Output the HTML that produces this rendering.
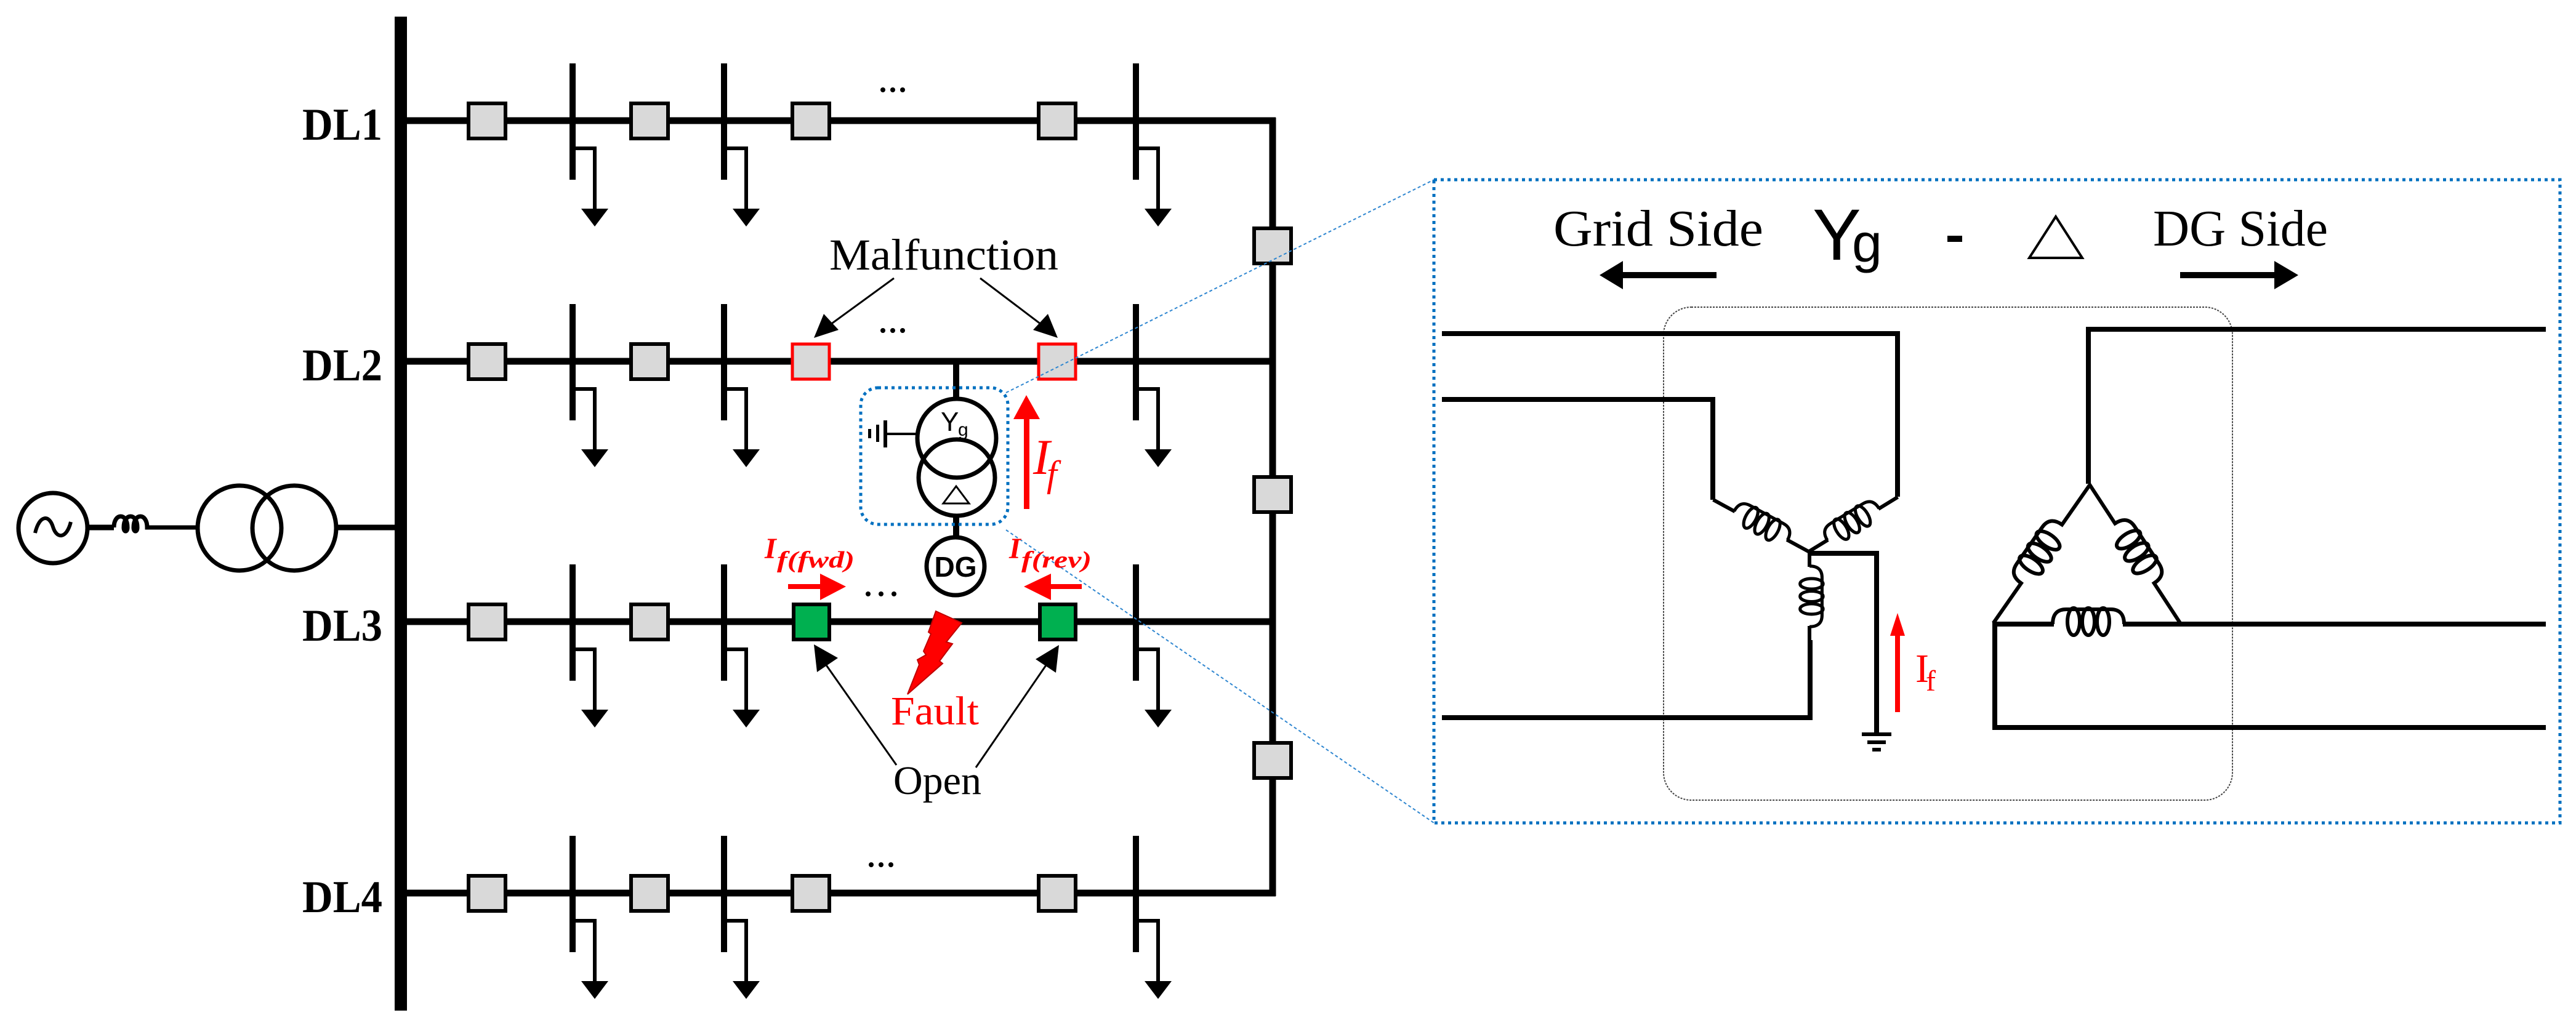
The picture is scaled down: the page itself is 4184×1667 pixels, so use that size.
<!DOCTYPE html>
<html><head><meta charset="utf-8"><style>
html,body{margin:0;padding:0;background:#fff}
svg{display:block}
.s{font-family:"Liberation Serif",serif}
.a{font-family:"Liberation Sans",sans-serif}
</style></head><body>
<svg width="4184" height="1667" viewBox="0 0 4184 1667" xmlns="http://www.w3.org/2000/svg">
<defs>
<g id="coil" fill="none" stroke="#000" stroke-width="6">
  <path d="M-58,0 Q-58,-24 -36,-24 H36 Q58,-24 58,0"/>
  <ellipse cx="-24" cy="-4" rx="10" ry="22"/>
  <ellipse cx="0" cy="-4" rx="10" ry="22"/>
  <ellipse cx="24" cy="-4" rx="10" ry="22"/>
</g>
<g id="load">
  <path d="M0,45 H36 V150" fill="none" stroke="#000" stroke-width="6"/>
  <polygon points="14,143 58,143 36,172" fill="#000"/>
</g>
</defs>

<!-- main bus -->
<rect x="641" y="27" width="20" height="1615" fill="#000"/>

<!-- source -->
<ellipse cx="86" cy="858" rx="56" ry="57" fill="none" stroke="#000" stroke-width="7"/>
<path d="M57,866 C64,836 80,836 86,856 S108,876 115,848" fill="none" stroke="#000" stroke-width="6"/>
<line x1="143" y1="857" x2="185" y2="857" stroke="#000" stroke-width="9"/>
<path d="M185,857 c0,-24 22,-24 22,0 c0,8 -6,8 -6,0 c0,-24 22,-24 22,0 c0,8 -6,8 -6,0 c0,-24 22,-24 22,0 H322" fill="none" stroke="#000" stroke-width="7"/>
<ellipse cx="389" cy="858" rx="68" ry="69" fill="none" stroke="#000" stroke-width="7"/>
<ellipse cx="478" cy="858" rx="68" ry="69" fill="none" stroke="#000" stroke-width="7"/>
<line x1="546" y1="857" x2="645" y2="857" stroke="#000" stroke-width="9"/>

<!-- feeders -->
<g stroke="#000" stroke-width="11">
<line x1="650" y1="196" x2="2072" y2="196"/>
<line x1="650" y1="587" x2="2067" y2="587"/>
<line x1="650" y1="1010" x2="2067" y2="1010"/>
<line x1="650" y1="1451" x2="2072" y2="1451"/>
<line x1="2067" y1="191" x2="2067" y2="1456"/>
</g>

<!-- branches -->
<g fill="#000">
<rect x="925" y="103" width="10" height="189"/><rect x="1171" y="103" width="10" height="189"/><rect x="1840" y="103" width="10" height="189"/>
<rect x="925" y="494" width="10" height="189"/><rect x="1171" y="494" width="10" height="189"/><rect x="1840" y="494" width="10" height="189"/>
<rect x="925" y="917" width="10" height="189"/><rect x="1171" y="917" width="10" height="189"/><rect x="1840" y="917" width="10" height="189"/>
<rect x="925" y="1358" width="10" height="189"/><rect x="1171" y="1358" width="10" height="189"/><rect x="1840" y="1358" width="10" height="189"/>
</g>
<use href="#load" x="930" y="196"/><use href="#load" x="1176" y="196"/><use href="#load" x="1845" y="196"/>
<use href="#load" x="930" y="587"/><use href="#load" x="1176" y="587"/><use href="#load" x="1845" y="587"/>
<use href="#load" x="930" y="1010"/><use href="#load" x="1176" y="1010"/><use href="#load" x="1845" y="1010"/>
<use href="#load" x="930" y="1451"/><use href="#load" x="1176" y="1451"/><use href="#load" x="1845" y="1451"/>

<!-- switches -->
<g fill="#d9d9d9" stroke="#000" stroke-width="6">
<rect x="761" y="168" width="60" height="57"/><rect x="1025" y="168" width="60" height="57"/><rect x="1287" y="168" width="60" height="57"/><rect x="1687" y="168" width="60" height="57"/>
<rect x="761" y="559" width="60" height="57"/><rect x="1025" y="559" width="60" height="57"/>
<rect x="761" y="982" width="60" height="57"/><rect x="1025" y="982" width="60" height="57"/>
<rect x="761" y="1423" width="60" height="57"/><rect x="1025" y="1423" width="60" height="57"/><rect x="1287" y="1423" width="60" height="57"/><rect x="1687" y="1423" width="60" height="57"/>
<rect x="2037" y="371" width="60" height="57"/><rect x="2037" y="775" width="60" height="57"/><rect x="2037" y="1207" width="60" height="57"/>
</g>
<g fill="#d9d9d9" stroke="#ff0000" stroke-width="5">
<rect x="1287" y="559" width="60" height="57"/><rect x="1687" y="559" width="60" height="57"/>
</g>
<g fill="#00b050" stroke="#000" stroke-width="6">
<rect x="1289" y="982" width="58" height="57"/><rect x="1689" y="982" width="58" height="57"/>
</g>

<!-- labels DL -->
<g class="s" font-weight="bold" font-size="74" fill="#000">
<text x="491" y="227" textLength="130" lengthAdjust="spacingAndGlyphs">DL1</text>
<text x="491" y="618" textLength="130" lengthAdjust="spacingAndGlyphs">DL2</text>
<text x="491" y="1041" textLength="130" lengthAdjust="spacingAndGlyphs">DL3</text>
<text x="491" y="1482" textLength="130" lengthAdjust="spacingAndGlyphs">DL4</text>
</g>
<g fill="#000">
<circle cx="1434" cy="146" r="4"/><circle cx="1450" cy="146" r="4"/><circle cx="1466" cy="146" r="4"/>
<circle cx="1434" cy="537" r="4"/><circle cx="1450" cy="537" r="4"/><circle cx="1466" cy="537" r="4"/>
<circle cx="1410" cy="965" r="4"/><circle cx="1431" cy="965" r="4"/><circle cx="1452" cy="965" r="4"/>
<circle cx="1415" cy="1405" r="4"/><circle cx="1431" cy="1405" r="4"/><circle cx="1447" cy="1405" r="4"/>
</g>

<!-- Malfunction -->
<text class="s" x="1347" y="438" font-size="72" textLength="372" lengthAdjust="spacingAndGlyphs">Malfunction</text>
<g stroke="#000" stroke-width="3">
<line x1="1452" y1="452" x2="1345" y2="530"/>
<line x1="1592" y1="452" x2="1695" y2="530"/>
</g>
<polygon points="1322,549 1338,510 1362,536" fill="#000"/>
<polygon points="1718,549 1678,536 1702,510" fill="#000"/>

<!-- DG transformer -->
<line x1="1553" y1="587" x2="1553" y2="650" stroke="#000" stroke-width="10"/>
<circle cx="1554" cy="712" r="64" fill="none" stroke="#000" stroke-width="7"/>
<circle cx="1554" cy="776" r="62" fill="none" stroke="#000" stroke-width="7"/>
<text class="a" x="1528" y="700" font-size="44">Y</text><text class="a" x="1556" y="708" font-size="30">g</text>
<polygon points="1532,818 1574,818 1553,790" fill="none" stroke="#000" stroke-width="3"/>
<line x1="1490" y1="705" x2="1438" y2="705" stroke="#000" stroke-width="4"/>
<rect x="1435" y="683" width="6" height="44" fill="#000"/>
<rect x="1423" y="690" width="5" height="28" fill="#000"/>
<rect x="1410" y="697" width="5" height="15" fill="#000"/>
<line x1="1553" y1="838" x2="1553" y2="874" stroke="#000" stroke-width="10"/>
<circle cx="1552" cy="920" r="47" fill="#fff" stroke="#000" stroke-width="7"/>
<text class="a" x="1552" y="937" font-size="46" font-weight="bold" text-anchor="middle">DG</text>
<rect x="1398" y="630" width="239" height="222" rx="28" fill="none" stroke="#0070c0" stroke-width="5" stroke-dasharray="5 6"/>

<!-- zoom connectors -->
<line x1="1634" y1="638" x2="2329" y2="292" stroke="#2e86d0" stroke-width="2" stroke-dasharray="5 4"/>
<line x1="1634" y1="861" x2="2329" y2="1337" stroke="#2e86d0" stroke-width="2" stroke-dasharray="5 4"/>

<!-- If red arrow -->
<rect x="1663" y="676" width="9" height="151" fill="#ff0000"/>
<polygon points="1646,681 1689,681 1667,642" fill="#ff0000"/>
<text class="s" x="1678" y="770" font-size="82" font-style="italic" fill="#ff0000">I</text>
<text class="s" x="1700" y="790" font-size="60" font-style="italic" fill="#ff0000">f</text>

<!-- fwd / rev -->
<text class="s" fill="#ff0000" font-weight="bold" font-style="italic"><tspan x="1242" y="907" font-size="48">I</tspan><tspan x="1262" y="922" font-size="38" textLength="126" lengthAdjust="spacingAndGlyphs">f(fwd)</tspan></text>
<text class="s" fill="#ff0000" font-weight="bold" font-style="italic"><tspan x="1639" y="907" font-size="48">I</tspan><tspan x="1659" y="922" font-size="38" textLength="114" lengthAdjust="spacingAndGlyphs">f(rev)</tspan></text>
<rect x="1280" y="949" width="56" height="8" fill="#ff0000"/>
<polygon points="1332,932 1332,975 1374,953" fill="#ff0000"/>
<rect x="1700" y="949" width="57" height="8" fill="#ff0000"/>
<polygon points="1707,932 1707,975 1663,953" fill="#ff0000"/>

<!-- Fault bolt -->
<polygon points="1520,993 1562,1012 1537,1043 1547,1046 1526,1074 1531,1078 1474,1128 1493,1080 1490,1072 1504,1064 1500,1058 1512,1030 1508,1027" fill="#ff0000" stroke="#c00000" stroke-width="2"/>
<text class="s" x="1447" y="1177" font-size="66" fill="#ff0000" textLength="143" lengthAdjust="spacingAndGlyphs">Fault</text>

<!-- Open -->
<text class="s" x="1451" y="1290" font-size="66" textLength="143" lengthAdjust="spacingAndGlyphs">Open</text>
<g stroke="#000" stroke-width="3">
<line x1="1456" y1="1243" x2="1338" y2="1075"/>
<line x1="1585" y1="1247" x2="1703" y2="1075"/>
</g>
<polygon points="1322,1047 1327,1092 1361,1069" fill="#000"/>
<polygon points="1720,1048 1682,1071 1715,1093" fill="#000"/>

<!-- Right panel -->
<rect x="2329" y="292" width="1829" height="1045" fill="none" stroke="#0070c0" stroke-width="5" stroke-dasharray="5 6"/>
<rect x="2702" y="499" width="924" height="801" rx="45" fill="none" stroke="#444" stroke-width="2" stroke-dasharray="3 2"/>

<text class="s" x="2523" y="399" font-size="84" textLength="341" lengthAdjust="spacingAndGlyphs">Grid Side</text>
<text class="s" x="3497" y="399" font-size="84" textLength="284" lengthAdjust="spacingAndGlyphs">DG Side</text>
<text class="a" x="2944" y="422" font-size="118">Y</text>
<text class="a" x="3008" y="425" font-size="88">g</text>
<rect x="3163" y="383" width="24" height="10" fill="#000"/>
<polygon points="3296,419 3382,419 3339,352" fill="none" stroke="#000" stroke-width="4"/>
<line x1="2788" y1="447" x2="2628" y2="447" stroke="#000" stroke-width="10"/>
<polygon points="2598,447 2636,424 2636,470" fill="#000"/>
<line x1="3541" y1="447" x2="3700" y2="447" stroke="#000" stroke-width="10"/>
<polygon points="3733,447 3694,424 3694,470" fill="#000"/>

<g fill="none" stroke="#000" stroke-width="8">
<polyline points="2342,542 3082,542 3082,807"/>
<polyline points="2342,649 2782,649 2782,812"/>
<polyline points="2342,1166 2940,1166 2940,1040"/>
<polyline points="2937,899 3048,899 3048,1191"/>
<polyline points="4135,535 3392,535 3392,786"/>
<polyline points="4135,1014 3240,1014 3240,1182 4135,1182"/>
</g>
<g stroke="#000" stroke-width="6">
<line x1="3024" y1="1193" x2="3072" y2="1193"/>
<line x1="3033" y1="1206" x2="3063" y2="1206"/>
<line x1="3041" y1="1218" x2="3055" y2="1218"/>
</g>

<!-- Y coils -->
<g transform="translate(2860,854) rotate(28.5)">
 <line x1="-88" y1="0" x2="-48" y2="0" stroke="#000" stroke-width="6"/><line x1="48" y1="0" x2="88" y2="0" stroke="#000" stroke-width="6"/>
 <g transform="scale(0.85)"><use href="#coil"/></g>
</g>
<g transform="translate(3010,852) rotate(-31.5)">
 <line x1="-85" y1="0" x2="-48" y2="0" stroke="#000" stroke-width="6"/><line x1="48" y1="0" x2="85" y2="0" stroke="#000" stroke-width="6"/>
 <g transform="scale(0.85)"><use href="#coil"/></g>
</g>
<g transform="translate(2939,969) rotate(90)">
 <line x1="-73" y1="0" x2="-48" y2="0" stroke="#000" stroke-width="6"/><line x1="48" y1="0" x2="73" y2="0" stroke="#000" stroke-width="6"/>
 <g transform="scale(0.85)"><use href="#coil"/></g>
</g>

<!-- Delta coils -->
<g transform="translate(3316,900) rotate(-55.1)">
 <line x1="-137" y1="0" x2="-55" y2="0" stroke="#000" stroke-width="6"/><line x1="55" y1="0" x2="137" y2="0" stroke="#000" stroke-width="6"/>
 <use href="#coil"/>
</g>
<g transform="translate(3467,899) rotate(56.8)">
 <line x1="-135" y1="0" x2="-55" y2="0" stroke="#000" stroke-width="6"/><line x1="55" y1="0" x2="135" y2="0" stroke="#000" stroke-width="6"/>
 <use href="#coil"/>
</g>
<g transform="translate(3392,1014)">
 <rect x="-56" y="-6" width="112" height="12" fill="#fff"/>
 <use href="#coil"/>
</g>

<!-- If right panel -->
<rect x="3078" y="1030" width="8" height="127" fill="#ff0000"/>
<polygon points="3070,1033 3094,1033 3082,996" fill="#ff0000"/>
<text class="s" x="3111" y="1108" font-size="66" fill="#ff0000">I</text>
<text class="s" x="3128" y="1122" font-size="48" fill="#ff0000">f</text>
</svg>
</body></html>
